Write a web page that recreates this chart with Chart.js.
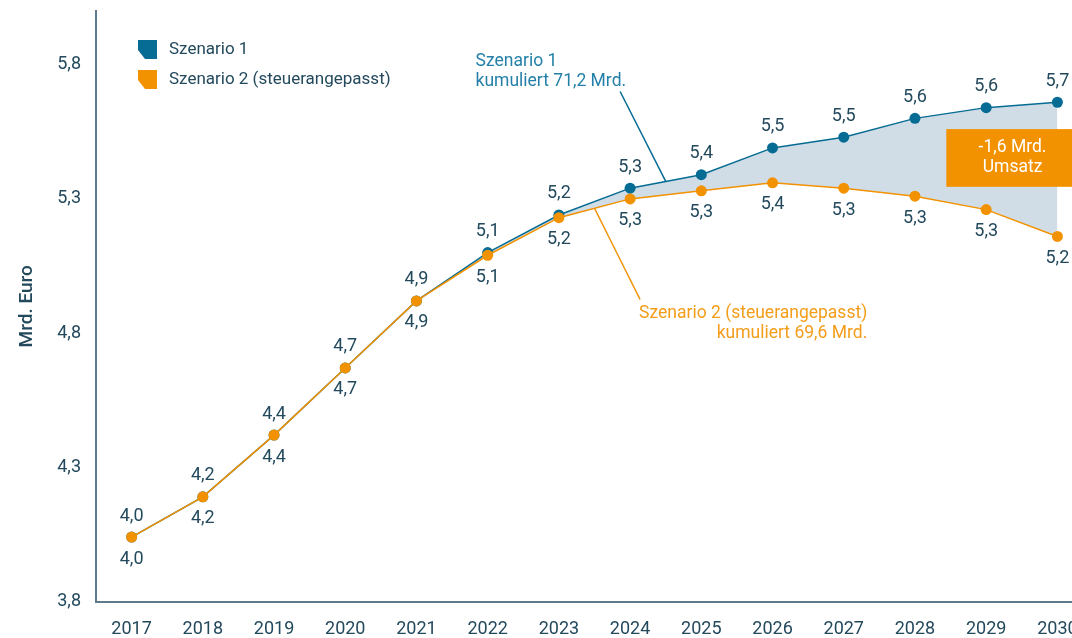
<!DOCTYPE html>
<html lang="de">
<head>
<meta charset="utf-8">
<title>Umsatzprognose Szenarien</title>
<script src="https://cdn.jsdelivr.net/npm/chart.js@4.4.1/dist/chart.umd.min.js"></script>
<style>
  html, body { margin: 0; padding: 0; background: #fff; overflow: hidden; }
  #chart-container { position: relative; width: 1100px; height: 638px; }
</style>
</head>
<body>
<div id="chart-container">
  <canvas id="myChart"></canvas>
</div>
<script>
// values in Mrd. Euro
const years = [2017, 2018, 2019, 2020, 2021, 2022, 2023, 2024, 2025, 2026, 2027, 2028, 2029, 2030];
const szenario1 = [4.04, 4.19, 4.42, 4.67, 4.92, 5.10, 5.24, 5.34, 5.39, 5.49, 5.53, 5.60, 5.64, 5.66];
const szenario2 = [4.04, 4.19, 4.42, 4.67, 4.92, 5.09, 5.23, 5.30, 5.33, 5.36, 5.34, 5.31, 5.26, 5.16];
const yTicks = [3.8, 4.3, 4.8, 5.3, 5.8];
const seriesNames = ['Szenario 1', 'Szenario 2 (steuerangepasst)'];

const TEAL = '#066c93';
const ORANGE = '#f39200';
const GAP_FILL = '#d0dde6';
const TEXT = '#23495d';
const AXIS = '#5f7b8b';
const FONT = 'Roboto, "Open Sans", sans-serif';

const fmt = v => v.toFixed(1).replace('.', ',');
const sum = arr => arr.reduce((a, b) => a + b, 0);

// value labels: above the first series, below the second
const valueLabels = {
  id: 'valueLabels',
  afterDatasetsDraw(chart) {
    const ctx = chart.ctx;
    ctx.save();
    ctx.font = '18px ' + FONT;
    ctx.fillStyle = TEXT;
    ctx.textAlign = 'center';
    ctx.textBaseline = 'middle';
    chart.data.datasets.forEach((ds, i) => {
      const dy = i === 0 ? -21 : 22;
      chart.getDatasetMeta(i).data.forEach((pt, j) => {
        ctx.fillText(fmt(ds.data[j].y), pt.x, pt.y + dy);
      });
    });
    ctx.restore();
  }
};

// legend, callouts and the gap box
const notes = {
  id: 'notes',
  afterDatasetsDraw(chart) {
    const ctx = chart.ctx;
    const x = chart.scales.x, y = chart.scales.y;
    const area = chart.chartArea;
    ctx.save();

    // legend with cut-corner markers
    const colors = [TEAL, ORANGE];
    seriesNames.forEach((name, i) => {
      const lx = area.left + 42, ly = area.top + 29 + i * 30;
      ctx.beginPath();
      ctx.moveTo(lx, ly);
      ctx.lineTo(lx + 19, ly);
      ctx.lineTo(lx + 19, ly + 19);
      ctx.lineTo(lx + 7, ly + 19);
      ctx.lineTo(lx, ly + 10);
      ctx.closePath();
      ctx.fillStyle = colors[i];
      ctx.fill();
      ctx.font = '17px ' + FONT;
      ctx.fillStyle = TEXT;
      ctx.textAlign = 'left';
      ctx.textBaseline = 'middle';
      ctx.fillText(name, lx + 31, ly + 10);
    });

    const total1 = sum(szenario1), total2 = sum(szenario2);
    ctx.font = '17.5px ' + FONT;
    ctx.textBaseline = 'middle';

    // Szenario 1 callout
    const mid1 = (szenario1[7] + szenario1[8]) / 2;
    ctx.strokeStyle = TEAL;
    ctx.lineWidth = 1.5;
    ctx.beginPath();
    ctx.moveTo(x.getPixelForValue(2023.86), y.getPixelForValue(5.70));
    ctx.lineTo(x.getPixelForValue(2024.5), y.getPixelForValue(mid1));
    ctx.stroke();
    ctx.fillStyle = '#2480a8';
    ctx.textAlign = 'left';
    const t1x = x.getPixelForValue(2021.83), t1y = y.getPixelForValue(5.813);
    ctx.fillText(seriesNames[0], t1x, t1y);
    ctx.fillText('kumuliert ' + fmt(total1) + ' Mrd.', t1x, t1y + 20);

    // Szenario 2 callout
    const mid2 = (szenario2[6] + szenario2[7]) / 2;
    ctx.strokeStyle = ORANGE;
    ctx.beginPath();
    ctx.moveTo(x.getPixelForValue(2023.5), y.getPixelForValue(mid2));
    ctx.lineTo(x.getPixelForValue(2024.14), y.getPixelForValue(4.925));
    ctx.stroke();
    ctx.fillStyle = '#f49d1a';
    ctx.textAlign = 'right';
    const t2x = x.getPixelForValue(2027.33), t2y = y.getPixelForValue(4.874);
    ctx.fillText(seriesNames[1], t2x, t2y);
    ctx.fillText('kumuliert ' + fmt(total2) + ' Mrd.', t2x, t2y + 20);

    // gap box, running off the right edge
    const bx0 = x.getPixelForValue(2028.44), bx1 = x.getPixelForValue(2030.5);
    const by0 = y.getPixelForValue(5.56), by1 = y.getPixelForValue(5.345);
    ctx.fillStyle = ORANGE;
    ctx.fillRect(bx0, by0, bx1 - bx0, by1 - by0);
    ctx.fillStyle = '#ffffff';
    ctx.textAlign = 'center';
    const bcx = x.getPixelForValue(2029.37), bcy = (by0 + by1) / 2;
    ctx.fillText('-' + fmt(total1 - total2) + ' Mrd.', bcx, bcy - 10);
    ctx.fillText('Umsatz', bcx, bcy + 10);

    ctx.restore();
  }
};

function createChart() {
  const ctx = document.getElementById('myChart').getContext('2d');
  new Chart(ctx, {
    type: 'line',
    data: {
      datasets: [
        {
          label: seriesNames[0],
          data: years.map((yr, i) => ({ x: yr, y: szenario1[i] })),
          borderColor: TEAL,
          backgroundColor: GAP_FILL,
          pointBackgroundColor: TEAL,
          pointBorderWidth: 0,
          pointRadius: 5.5,
          borderWidth: 1.5,
          tension: 0,
          fill: { target: 1, above: GAP_FILL, below: GAP_FILL },
          order: 2
        },
        {
          label: seriesNames[1],
          data: years.map((yr, i) => ({ x: yr, y: szenario2[i] })),
          borderColor: ORANGE,
          pointBackgroundColor: ORANGE,
          pointBorderWidth: 0,
          pointRadius: 5.5,
          borderWidth: 1.5,
          tension: 0,
          fill: false,
          order: 1
        }
      ]
    },
    options: {
      responsive: true,
      maintainAspectRatio: false,
      animation: false,
      layout: { padding: { top: 11, right: 7, left: 0, bottom: 0 } },
      plugins: {
        legend: { display: false },
        tooltip: { enabled: false }
      },
      scales: {
        x: {
          type: 'linear',
          min: 2016.5,
          max: 2030.5,
          grid: { display: false, drawTicks: false },
          border: { display: true, color: AXIS, width: 2 },
          afterBuildTicks: s => { s.ticks = years.map(v => ({ value: v })); },
          afterFit: s => { s.height = 36.5; s.paddingLeft = 0; s.paddingRight = 0; },
          ticks: {
            padding: 17,
            color: TEXT,
            autoSkip: false,
            maxRotation: 0,
            font: { family: FONT, size: 18 },
            callback: v => String(v)
          }
        },
        y: {
          min: 3.8,
          max: 6.0,
          grid: { display: false, drawTicks: false },
          border: { display: true, color: AXIS, width: 2 },
          afterBuildTicks: s => { s.ticks = yTicks.map(v => ({ value: v })); },
          afterFit: s => { s.width = 96; s.paddingTop = 0; s.paddingBottom = 0; },
          ticks: {
            padding: 15,
            color: TEXT,
            font: { family: FONT, size: 18 },
            callback: v => fmt(v)
          },
          title: {
            display: true,
            text: 'Mrd. Euro',
            color: TEXT,
            padding: { top: 16, bottom: 0 },
            font: { family: FONT, size: 19, weight: '500' }
          }
        }
      }
    },
    plugins: [valueLabels, notes]
  });
}

createChart();
</script>
</body>
</html>
